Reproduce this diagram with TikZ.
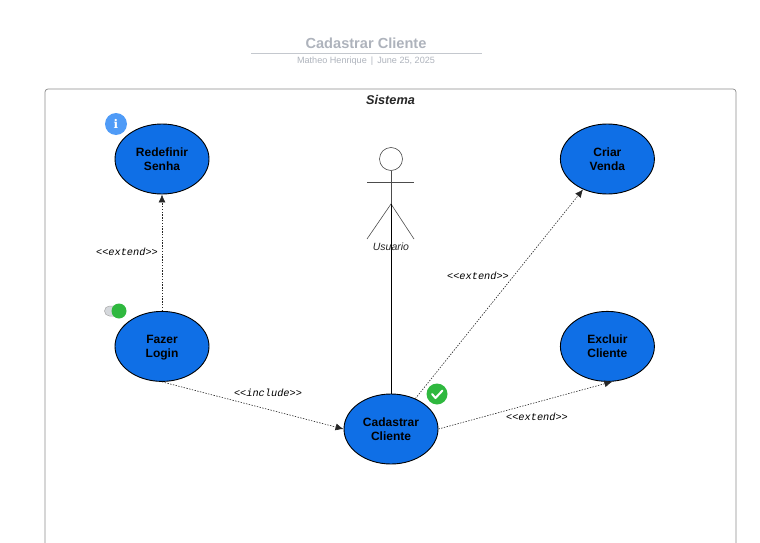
\documentclass[tikz,border=0pt]{standalone}
\usepackage{fontspec}
\setmainfont{Liberation Sans}
\newfontfamily\labelmono{Liberation Mono}
\newfontfamily\iconfont{DejaVu Serif}
\usepackage{tikz}
\usetikzlibrary{positioning,shapes.geometric,shapes.misc,arrows.meta}
\usepackage{xcolor}
\definecolor{CaseBlue}{HTML}{0F6FE6}
\definecolor{TitleGray}{HTML}{AEB3BC}
\definecolor{RuleGray}{HTML}{C4C8CE}
\definecolor{FrameGray}{HTML}{8A8A8A}
\definecolor{BadgeGreen}{HTML}{2FB83F}
\definecolor{InfoBlue}{HTML}{4F9BF7}
\definecolor{ToggleGray}{HTML}{D5D8DC}
\begin{document}
\begin{tikzpicture}[
				x=1pt, y=-1pt,
				usecase/.style={ellipse, draw=black, fill=CaseBlue, line width=0.9pt,
					minimum width=94pt, minimum height=70pt, inner sep=0pt, text depth=0pt,
					align=center, font=\fontsize{12}{14}\selectfont\bfseries},
				extendlabel/.style={font=\fontsize{10.3}{12}\labelmono\itshape, inner sep=0pt},
				arrow/.style={-{Latex[length=8pt,width=7pt]}, black!85, line width=0.6pt, dash pattern=on 1.4pt off 1.4pt},
				limb/.style={draw=black!70, line width=0.6pt},
				badge/.style={circle, inner sep=0pt, draw=none}
				]
				\useasboundingbox (0,0) rectangle (760,543);
				\node[font=\fontsize{14.6}{16}\selectfont\bfseries, text=TitleGray] (title) at (366,43) {Cadastrar Cliente};
				\node[font=\fontsize{9.1}{10}\selectfont, text=TitleGray] (subtitle) at (366,61) {Matheo Henrique \,|\, June 25, 2025};
				\coordinate (ruleL) at (251,53);
				\coordinate (ruleR) at (482,53);
				\draw[RuleGray, line width=0.8pt] (ruleL) -- (ruleR);
				\coordinate (frameBL) at (45,550);
				\coordinate (frameTL) at (45,89);
				\coordinate (frameTR) at (736,89);
				\coordinate (frameBR) at (736,550);
				\draw[FrameGray, line width=0.7pt, rounded corners=3pt] (frameBL) -- (frameTL) -- (frameTR) -- (frameBR);
				\node[font=\fontsize{12.7}{14}\selectfont\bfseries\itshape, text=black!85] (sistema) at (390.5,100) {Sistema};
				\node[usecase] (redefinir) at (162,159) {Redefinir\\Senha};
				\node[usecase, below=116.5pt of redefinir] (login) {Fazer\\Login};
				\node[usecase, right=350.5pt of redefinir] (venda) {Criar\\Venda};
				\node[usecase, below=116.5pt of venda] (excluir) {Excluir\\Cliente};
				\node[usecase] (cadastrar) at (391,429) {Cadastrar\\Cliente};
				\node[circle, draw=black!70, line width=0.6pt, minimum size=23pt, inner sep=0pt] (head) at (391,159) {};
				\coordinate (armL) at (367,182);
				\coordinate (armR) at (414,182);
				\coordinate (hip) at (391,204);
				\coordinate (legL) at (367,239);
				\coordinate (legR) at (414,239);
				\node[font=\fontsize{10.5}{11}\selectfont\itshape, text=black!85, inner sep=0pt] (usuario) at (391,247) {Usuario};
				\draw[limb] (head) -- (hip);
				\draw[limb] (armL) -- (armR);
				\draw[limb] (legL) -- (hip) -- (legR);
				\draw[black, line width=0.7pt] (hip) -- (cadastrar);
				\draw[arrow] (login) -- (redefinir);
				\draw[arrow] (login.south) -- (cadastrar.west);
				\draw[arrow] (cadastrar) -- (venda);
				\draw[arrow] (cadastrar.east) -- (excluir.-82);
				\node[extendlabel] (l1) at (127,252) {<<extend>>};
				\node[extendlabel] (l2) at (478,276) {<<extend>>};
				\node[extendlabel] (l3) at (537,417) {<<extend>>};
				\node[extendlabel] (l4) at (268,393) {<<include>>};
				\node[badge, fill=InfoBlue, minimum size=22pt, text=white, font=\fontsize{12}{12}\iconfont\bfseries] (info) at (116,124) {i};
				\node[rounded rectangle, draw=black!35, fill=ToggleGray, minimum width=15pt, minimum height=10pt, inner sep=0pt, line width=0.5pt] (toggle) at (112,311) {};
				\node[badge, fill=BadgeGreen, minimum size=15pt] (toggledot) at (119,311) {};
				\node[badge, fill=BadgeGreen, minimum size=21pt] (check) at (437,394) {};
				\coordinate (tickA) at (432,394);
				\coordinate (tickB) at (435.5,398);
				\coordinate (tickC) at (442.5,390.5);
				\draw[white, line width=2pt, line cap=round, line join=round] (tickA) -- (tickB) -- (tickC);
			\end{tikzpicture}
\end{document}
